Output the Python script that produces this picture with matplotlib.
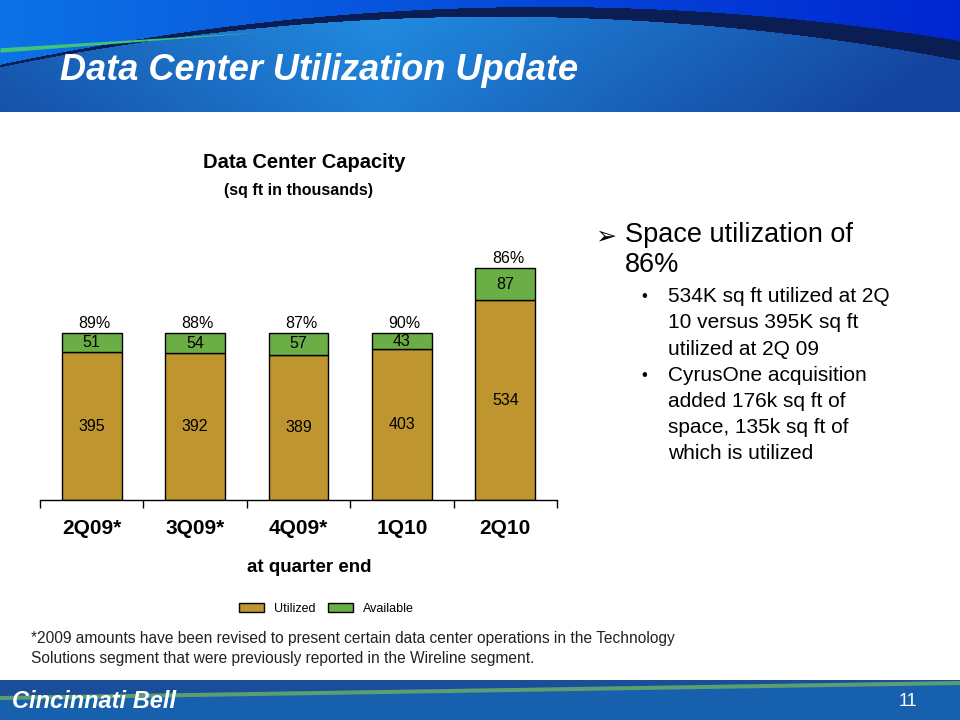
import matplotlib
matplotlib.use("Agg")
import matplotlib.pyplot as plt
import numpy as np

# chart data (sq ft in thousands, at quarter end)
quarters = ["2Q09*", "3Q09*", "4Q09*", "1Q10", "2Q10"]
utilized = [395, 392, 389, 403, 534]
available = [51, 54, 57, 43, 87]
pct_labels = ["89%", "88%", "87%", "90%", "86%"]

bullet_main = ["Space utilization of", "86%"]
bullet_sub = [
    ["534K sq ft utilized at 2Q", "10 versus 395K sq ft", "utilized at 2Q 09"],
    ["CyrusOne acquisition", "added 176k sq ft of", "space, 135k sq ft of", "which is utilized"],
]
footnote = [
    "*2009 amounts have been revised to present certain data center operations in the Technology",
    "Solutions segment that were previously reported in the Wireline segment.",
]

plt.rcParams['font.family'] = ['Liberation Sans', 'DejaVu Sans']

W, H = 960, 720
fig = plt.figure(figsize=(9.6, 7.2), dpi=100)


def fx(px):
    return px / W


def fy(py):
    return 1 - py / H


# background layer in pixel coordinates
bg = fig.add_axes([0, 0, 1, 1], zorder=0)
bg.set_xlim(0, W)
bg.set_ylim(H, 0)
bg.axis('off')

# header band with the dark swoosh
HH = 112
xs = np.arange(W)[None, :] + 0.5
ys = np.arange(HH)[:, None] + 0.5
yc = 12 + 2.0e-4 * (xs - 520) ** 2
th = 2.5 + 17 * (xs / W) ** 1.4
t = (xs / W)[..., None]
top_col = (1 - t) * np.array([0.05, 0.45, 0.90]) + t * np.array([0.0, 0.15, 0.82])
d = np.clip(np.abs(xs - 380) / 650 + 0.25 * ys / HH, 0, 1)[..., None]
low_col = (1 - d) * np.array([0.13, 0.56, 0.89]) + d * np.array([0.08, 0.27, 0.62])
img = np.broadcast_to(low_col, (HH, W, 3)).copy()
top_mask = np.broadcast_to(ys < yc - th / 2, (HH, W))
band_mask = np.broadcast_to(np.abs(ys - yc) <= th / 2, (HH, W))
img[top_mask] = np.broadcast_to(top_col, (HH, W, 3))[top_mask]
img[band_mask] = [0.04, 0.12, 0.33]
bg.imshow(img, extent=(0, W, HH, 0), aspect='auto', interpolation='bilinear')

# green accent line at left of header
xg = np.linspace(0, 260, 100)
yg = 50 - 18 * (xg / 260)
tg = 4.5 * (1 - xg / 260)
bg.fill_between(xg, yg - tg / 2, yg + tg / 2, color='#3fc47c', lw=0)

fig.text(fx(60), fy(70), "Data Center Utilization Update", color='white',
         fontsize=26, fontweight='bold', fontstyle='italic', va='center', ha='left')

# footer band
fb = np.zeros((40, W, 3))
fb[:] = [0.09, 0.38, 0.68]
bg.imshow(fb, extent=(0, W, 720, 680), aspect='auto')
xf = np.linspace(0, W, 200)
yf = 698 - 15 * (xf / W)
bg.fill_between(xf, np.full_like(xf, 680), yf - 2, color='#1a4e98', lw=0)
bg.fill_between(xf, yf - 2, yf + 2, color='#5c9e72', lw=0)
bg.set_xlim(0, W)
bg.set_ylim(H, 0)
fig.text(fx(12), fy(702), "Cincinnati Bell", color='white', fontsize=17,
         fontweight='bold', fontstyle='italic', va='center', ha='left', zorder=5)
fig.text(fx(908), fy(702), "11", color='white', fontsize=13, va='center', ha='center')

# bar chart
px_per_unit = 0.374
ymax = 700
ax = fig.add_axes([fx(40), fy(500), 517 / W, ymax * px_per_unit / H], zorder=2)
ax.patch.set_alpha(0)
x = np.arange(len(quarters))
bw = 0.58
b1 = ax.bar(x, utilized, bw, color='#BF9530', edgecolor='black', linewidth=1, label='Utilized')
b2 = ax.bar(x, available, bw, bottom=utilized, color='#6BAE46', edgecolor='black',
            linewidth=1, label='Available')
ax.set_xlim(-0.5, len(quarters) - 0.5)
ax.set_ylim(0, ymax)
for s in ['top', 'right', 'left']:
    ax.spines[s].set_visible(False)
ax.spines['bottom'].set_linewidth(1)
ax.set_yticks([])
ax.set_xticks(x, quarters, fontsize=15, fontweight='bold')
ax.tick_params(axis='x', which='major', length=0, pad=14)
ax.set_xticks(np.arange(-0.5, len(quarters), 1), minor=True)
ax.tick_params(axis='x', which='minor', length=6, width=1, direction='out')

ax.bar_label(b1, label_type='center', fontsize=11.5)
ax.bar_label(b2, label_type='center', fontsize=11.5)
for xi, u, a, p in zip(x, utilized, available, pct_labels):
    ax.annotate(p, (xi, u + a), xytext=(2, 7), textcoords='offset points',
                ha='center', va='center', fontsize=11.5)

fig.text(fx(304), fy(162), "Data Center Capacity", fontsize=14.5, fontweight='bold',
         ha='center', va='center')
fig.text(fx(298), fy(191), "(sq ft in thousands)", fontsize=11.5, fontweight='bold',
         ha='center', va='center')
fig.text(fx(309), fy(568), "at quarter end", fontsize=13.5, fontweight='bold',
         ha='center', va='center')

fig.legend(handles=[b1, b2], loc='center', bbox_to_anchor=(fx(326), fy(609)), ncol=2,
           frameon=False, fontsize=9, handlelength=2.0, handleheight=0.75,
           handletextpad=0.8, columnspacing=1.0)

# bullet text on the right
fig.text(fx(595), fy(236), "\u27a2", fontsize=18, ha='left', va='center')
for i, line in enumerate(bullet_main):
    fig.text(fx(625), fy(235 + 30 * i), line, fontsize=19.5, ha='left', va='center')
y = 297
for group in bullet_sub:
    fig.text(fx(641), fy(y), "\u2022", fontsize=12, ha='left', va='center')
    for line in group:
        fig.text(fx(668), fy(y), line, fontsize=15, ha='left', va='center')
        y += 26
    y += 0.5

for i, line in enumerate(footnote):
    fig.text(fx(31), fy(638 + 20 * i), line, fontsize=11.2, color='#222222',
             ha='left', va='center')

fig.savefig("out.png", dpi=100)
